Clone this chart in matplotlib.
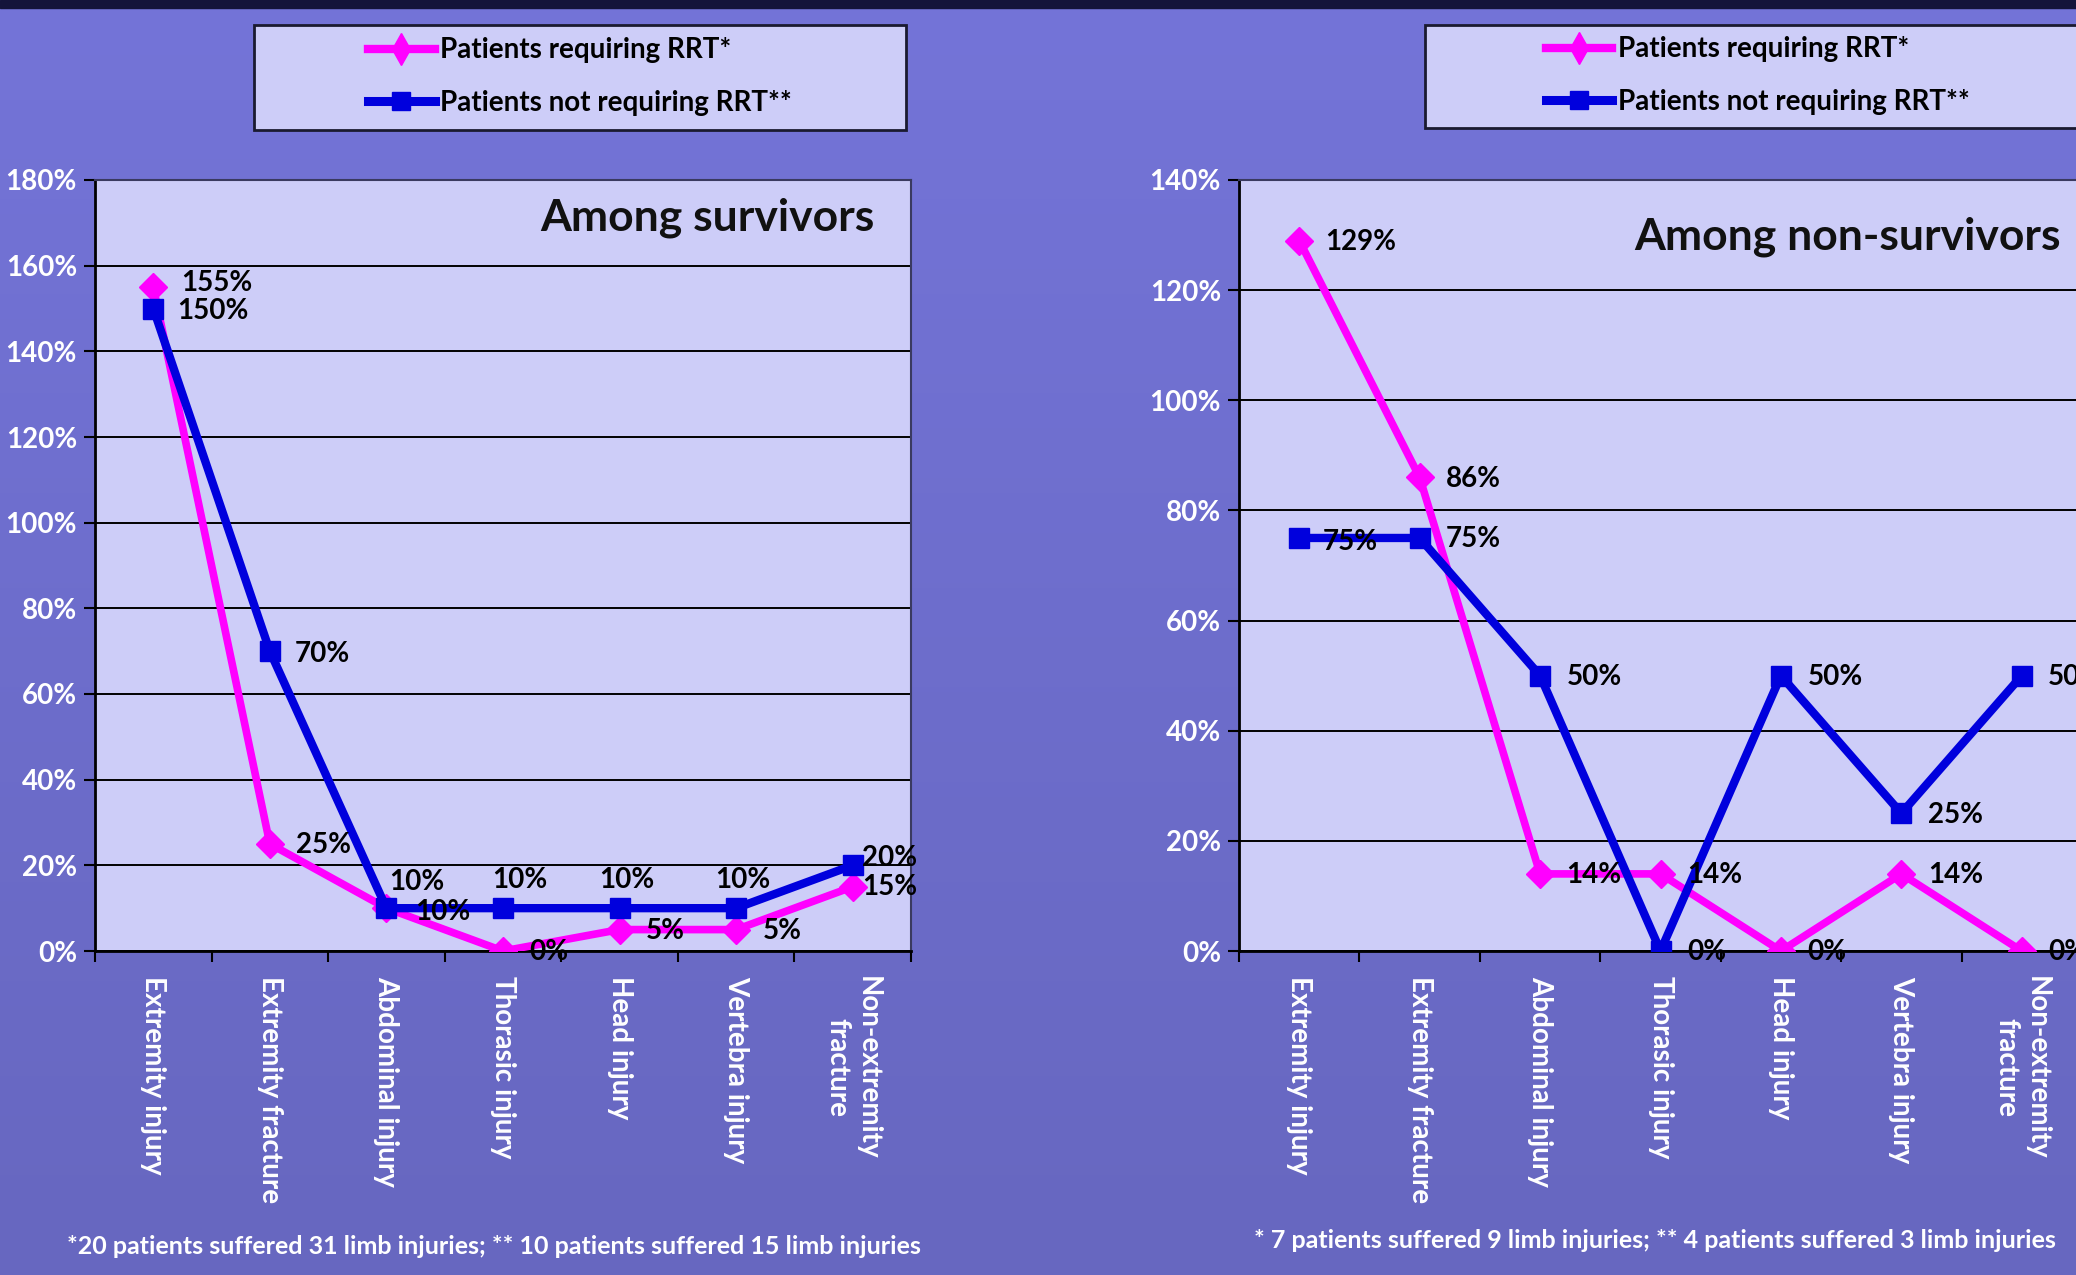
import numpy as np
import matplotlib
matplotlib.use("Agg")
import matplotlib.pyplot as plt
from matplotlib.lines import Line2D
from matplotlib.patches import Rectangle
from matplotlib.colors import LinearSegmentedColormap

# ---------------- data ----------------
categories = ["Extremity injury", "Extremity fracture", "Abdominal injury",
              "Thorasic injury", "Head injury", "Vertebra injury",
              "Non-extremity\nfracture"]
series_names = ["Patients requiring RRT*", "Patients not requiring RRT**"]

surv_rrt = [155, 25, 10, 0, 5, 5, 15]
surv_norrt = [150, 70, 10, 10, 10, 10, 20]
nonsurv_rrt = [129, 86, 14, 14, 0, 14, 0]
nonsurv_norrt = [75, 75, 50, 0, 50, 25, 50]

titles = ["Among survivors", "Among non-survivors"]
footnotes = ["*20 patients suffered 31 limb injuries; ** 10 patients suffered 15 limb injuries",
             "* 7 patients suffered 9 limb injuries; ** 4 patients suffered 3 limb injuries"]
ymax = [180, 140]

# ---------------- style ----------------
FONT = ["Lato", "DejaVu Sans"]
plt.rcParams["font.family"] = FONT
MAGENTA = "#FF00FF"
BLUE = "#0000DD"
PLOT_BG = "#CDCDF8"
W, H = 2076, 1275
fig = plt.figure(figsize=(W / 100, H / 100), dpi=100)

# background gradient
bg = fig.add_axes([0, 0, 1, 1], zorder=-10)
cmap = LinearSegmentedColormap.from_list("bg", ["#7474D8", "#6767C0"])
grad = np.linspace(0, 1, 256).reshape(-1, 1)
bg.imshow(grad, aspect="auto", cmap=cmap, extent=[0, 1, 0, 1], origin="upper")
bg.axhspan(1 - 8 / H, 1, color="#14143A")
bg.set_xlim(0, 1)
bg.set_ylim(0, 1)
bg.axis("off")

# label offsets (points): default, overrides for specific labels
default_off = (19, -1)
overrides = {
    (0, 1, 0): (17, -2), (0, 1, 1): (18, -2), (0, 1, 2): (2, 19), (0, 1, 3): (-8, 20),
    (0, 1, 4): (-15, 20), (0, 1, 5): (-15, 20), (0, 1, 6): (7, 5),
    (0, 0, 0): (20, 3), (0, 0, 2): (21, -3), (0, 0, 6): (7, 0),
    (1, 1, 0): (17, -3),
}

axes_rects = [
    (95 / W, 1 - 951 / H, 816 / W, 771 / H),
    (1239 / W, 1 - 951 / H, 843 / W, 771 / H),
]
legend_rects = [
    (254 / W, 1 - 130 / H, 652 / W, 105 / H),
    (1425 / W, 1 - 128 / H, 665 / W, 103 / H),
]
title_pos = [(0.955, 0.951), (0.975, 0.927)]
foot_pos = [(494 / W, 1 - 1246 / H), (1655 / W, 1 - 1241 / H)]

datasets = [(surv_rrt, surv_norrt), (nonsurv_rrt, nonsurv_norrt)]
x = np.arange(len(categories))

for k in range(2):
    ax = fig.add_axes(axes_rects[k])
    ax.set_facecolor(PLOT_BG)
    rrt, norrt = datasets[k]
    ax.plot(x, rrt, color=MAGENTA, lw=5.5, marker="D", ms=14, mec=MAGENTA, mfc=MAGENTA, zorder=3,
            solid_joinstyle="miter")
    ax.plot(x, norrt, color=BLUE, lw=6, marker="s", ms=15, mec=BLUE, mfc=BLUE, zorder=4,
            solid_joinstyle="miter")
    for s, vals in enumerate([rrt, norrt]):
        for i, v in enumerate(vals):
            dx, dy = overrides.get((k, s, i), default_off)
            ax.annotate(f"{v}%", (x[i], v), xytext=(dx, dy), textcoords="offset points",
                        ha="left", va="center", fontsize=20, fontweight="bold",
                        color="black", zorder=6, annotation_clip=False)
    ax.set_xlim(-0.5, len(categories) - 0.5)
    ax.set_ylim(0, ymax[k])
    ax.set_yticks(np.arange(0, ymax[k] + 1, 20))
    ax.set_yticklabels([f"{t}%" for t in range(0, ymax[k] + 1, 20)])
    ax.yaxis.grid(True, color="black", lw=1.4)
    ax.set_axisbelow(True)
    ax.set_xticks(x)
    ax.set_xticklabels(categories, rotation=270, ha="center", va="top",
                       multialignment="center")
    ax.set_xticks(np.arange(-0.5, len(categories), 1.0), minor=True)
    ax.tick_params(axis="x", which="major", length=0, pad=18, labelsize=20, labelcolor="white")
    ax.tick_params(axis="x", which="minor", length=8, width=1.5, color="black", direction="out")
    ax.tick_params(axis="y", length=8, width=1.5, color="black", direction="out", pad=5,
                   labelsize=20, labelcolor="white")
    for lab in ax.get_yticklabels():
        lab.set_fontweight("bold")
    for lab in ax.get_xticklabels():
        lab.set_fontweight("bold")
    for side in ["left", "bottom"]:
        ax.spines[side].set_color("black")
        ax.spines[side].set_linewidth(2)
    for side in ["top", "right"]:
        ax.spines[side].set_color("#3A3A60")
        ax.spines[side].set_linewidth(1.5)
    ax.text(title_pos[k][0], title_pos[k][1], titles[k], transform=ax.transAxes,
            ha="right", va="center", fontsize=32, fontweight="bold", color="#111111", zorder=7)

    # legend box
    lx, ly, lw_, lh = legend_rects[k]
    fig.patches.append(Rectangle((lx, ly), lw_, lh, transform=fig.transFigure,
                                 facecolor=PLOT_BG, edgecolor="#1A1A30", lw=2, zorder=1))
    handles = [Line2D([], [], color=MAGENTA, lw=6, marker="d", ms=16),
               Line2D([], [], color=BLUE, lw=6.5, marker="s", ms=13)]
    leg = fig.legend(handles, series_names, loc="center",
                     bbox_to_anchor=(lx + lw_ / 2, ly + lh / 2 + 1 / H), bbox_transform=fig.transFigure,
                     frameon=False, handlelength=2.4, handletextpad=0.2, labelspacing=0.95,
                     prop={"family": FONT, "weight": "bold", "size": 20})
    leg.set_zorder(5)

    fig.text(foot_pos[k][0], foot_pos[k][1], footnotes[k], ha="center", va="center",
             fontsize=18, fontweight="bold", color="white")

fig.savefig("out.png", dpi=100)
